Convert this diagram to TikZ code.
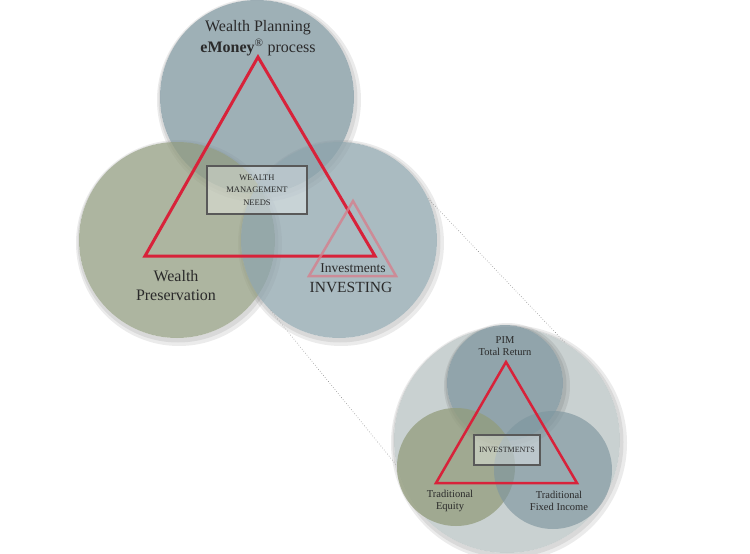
\documentclass[tikz,border=0pt]{standalone}
\usepackage{fontspec}
\setmainfont{Liberation Serif}
\usepackage{tikz}

\definecolor{planblue}{HTML}{7E959E}
\definecolor{presgreen}{HTML}{929C80}
\definecolor{investblue}{HTML}{8EA4AC}
\definecolor{zoomgrey}{HTML}{B2BDBD}
\definecolor{smallblue}{HTML}{7F969F}
\definecolor{smallgreen}{HTML}{929C7C}
\definecolor{trired}{HTML}{D8223A}
\definecolor{tripink}{HTML}{D4808C}
\definecolor{textgrey}{HTML}{2A2A2A}

\tikzset{
  disc/.style={circle,inner sep=0pt,minimum size=#1,fill opacity=0.75},
  needbox/.style={draw=black!65,line width=1.3pt,fill=white,fill opacity=0.35,
    text opacity=1,align=center,text=textgrey},
  label/.style={align=center,text=textgrey,inner sep=0pt},
  redtri/.style={draw=trired,line width=3pt,line join=miter},
  zoomline/.style={draw=black!45,dotted,line width=0.6pt}
}

\newcommand{\discshadow}[2]{%
  \fill[black,opacity=0.08,even odd rule] ([shift={(2,3)}]#1) circle (#2+5) (#1) circle (#2);
  \fill[black,opacity=0.08,even odd rule] ([shift={(1,2)}]#1) circle (#2+2.5) (#1) circle (#2);}

\begin{document}
\begin{tikzpicture}[x=1pt,y=-1pt]
  \useasboundingbox (0,0) rectangle (750,554);

  % centres
  \coordinate (c-plan) at (257,97);
  \coordinate (c-pres) at (177,240);
  \coordinate (c-invest) at (339,240);
  \coordinate (c-zoom) at (507,440);
  \coordinate (c-pim) at (505,383);

  \discshadow{c-plan}{97}
  \discshadow{c-pres}{98}
  \discshadow{c-invest}{98}
  \discshadow{c-zoom}{113}

  \node[disc=194pt,fill=planblue] (plan) at (c-plan) {};
  \node[disc=196pt,fill=presgreen] (pres) at (c-pres) {};
  \node[disc=196pt,fill=investblue] (invest) at (c-invest) {};

  % main triangle
  \draw[redtri] (258,57) -- (145,256) -- (375,256) -- cycle;
  \draw[draw=tripink,line width=2.5pt,draw opacity=0.8] (353,201) -- (309,276) -- (396,276) -- cycle;

  \node[needbox,minimum width=100pt,minimum height=48pt,font=\fontsize{8.5}{12.5}\selectfont] (needs) at (257,190)
    {WEALTH\\MANAGEMENT\\NEEDS};

  \node[label,font=\fontsize{16}{21}\selectfont] (plan-t) at (258,38)
    {Wealth Planning\\\textbf{eMoney}\textsuperscript{\textregistered} process};
  \node[label,font=\fontsize{16}{19}\selectfont] (pres-t) at (176,286)
    {Wealth\\Preservation};
  \node[label,font=\fontsize{13.5}{16}\selectfont] (invest-t) at (353,268) {Investments};
  \node[label,font=\fontsize{15.5}{18}\selectfont] (investing-t) at (351,287) {INVESTING};

  % zoomed view
  \node[disc=226pt,fill=zoomgrey,fill opacity=0.7] (zoom) at (c-zoom) {};
  \draw[zoomline] (invest.25) -- (zoom.59);
  \draw[zoomline] (invest.226) -- (zoom.193);

  \discshadow{c-pim}{58}
  \node[disc=116pt,fill=smallblue] (pim) at (c-pim) {};
  \node[disc=118pt,fill=smallgreen] (equity) at (456,467) {};
  \node[disc=118pt,fill=smallblue,fill opacity=0.65] (fixed) at (553,470) {};

  \draw[redtri,line width=2.5pt] (506,362) -- (436,483) -- (577,483) -- cycle;
  \node[needbox,minimum width=66pt,minimum height=30pt,font=\fontsize{8}{9}\selectfont] (invbox) at (507,450) {INVESTMENTS};

  \node[label,font=\fontsize{10.5}{12}\selectfont] (pim-t) at (505,346) {PIM\\Total Return};
  \node[label,font=\fontsize{10.5}{12}\selectfont] (equity-t) at (450,501) {Traditional\\Equity};
  \node[label,font=\fontsize{10.5}{12}\selectfont] (fixed-t) at (559,501) {Traditional\\Fixed Income};
\end{tikzpicture}
\end{document}
